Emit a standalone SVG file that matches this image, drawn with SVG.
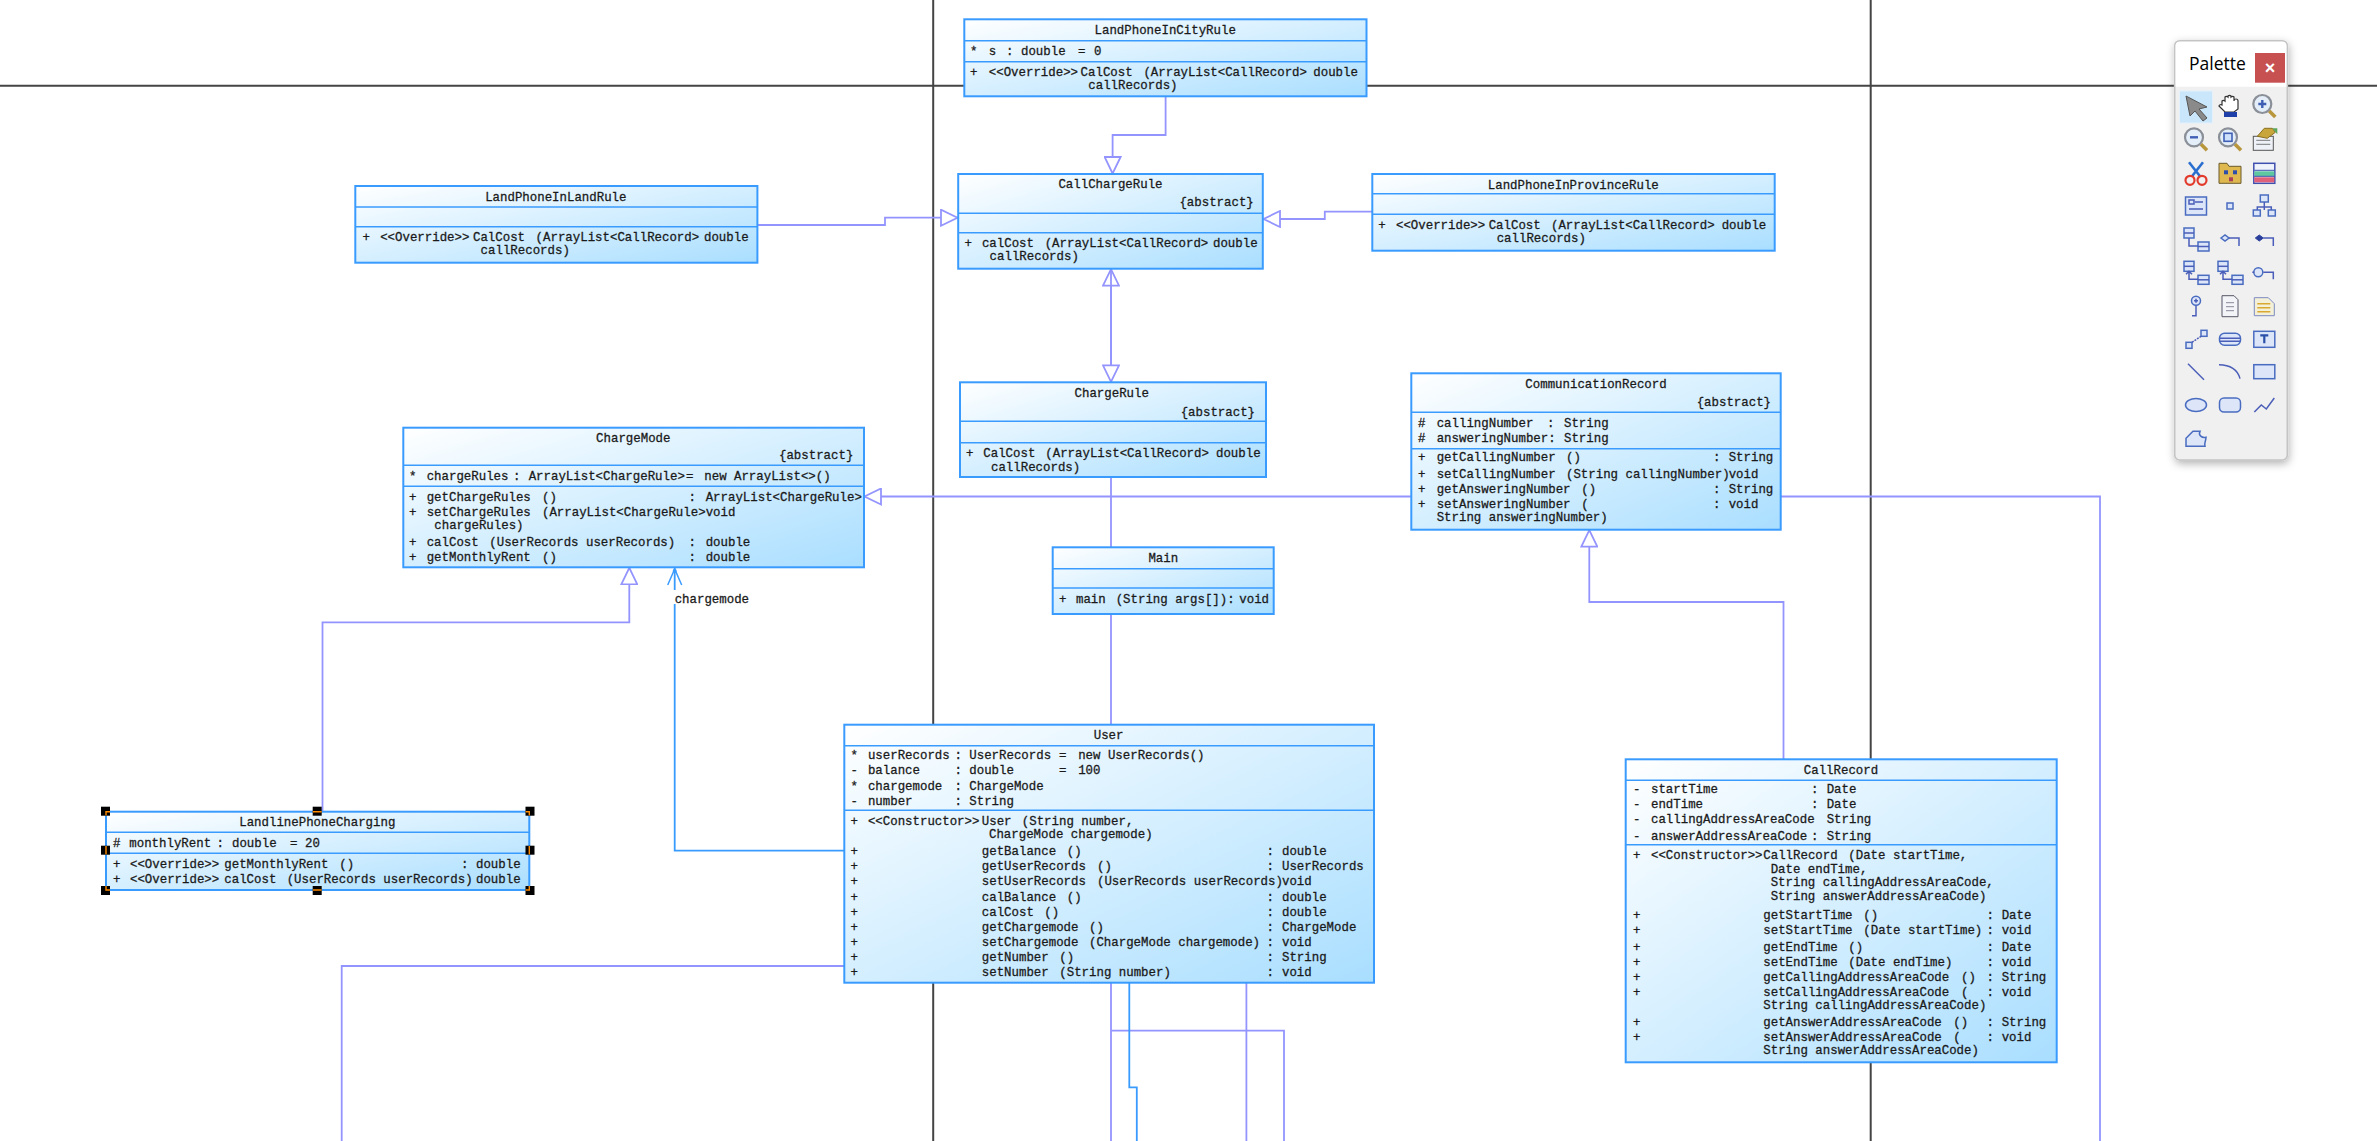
<svg xmlns="http://www.w3.org/2000/svg" width="2377" height="1141" viewBox="0 0 2377 1141">
<style>
text{font-family:"Liberation Mono","DejaVu Sans Mono",monospace;font-size:12.4px;fill:#1a1a1a;stroke:#1a1a1a;stroke-width:.28px}
.tt{text-anchor:middle}
.box{fill:url(#nodeFill);stroke:#3a9bff;stroke-width:2}
.div{stroke:#3a9bff;stroke-width:1.6;fill:none}
.bg{stroke:#444;stroke-width:2;fill:none}
.gen{stroke:#9494ff;stroke-width:1.8;fill:none}
.gh{marker-end:url(#tri)}
.asc{stroke:#3a9bff;stroke-width:1.8;fill:none}
.hd{fill:#000}
.or{stroke:#ff8c00;stroke-width:1.4;fill:none}
.ic{fill:none;stroke:#4a5db8;stroke-width:1.5}
.if{fill:#dce6f8;stroke:#4a6cc0;stroke-width:1.5}
.pt{font-family:"Open Sans","Noto Sans",sans-serif;font-size:17.5px;fill:#000;stroke:none}
.px{font-family:"Liberation Sans",sans-serif;font-size:18px;font-weight:bold;fill:#fff;stroke:none;text-anchor:middle}
</style>
<defs>
<linearGradient id="nodeFill" x1="0" y1="0" x2="1" y2="1"><stop offset="0" stop-color="#ffffff"/><stop offset="1" stop-color="#a9deff"/></linearGradient>
<marker id="tri" viewBox="0 0 18 18" refX="18" refY="9" markerWidth="18" markerHeight="18" markerUnits="userSpaceOnUse" orient="auto"><path d="M1,1 L17.5,9 L1,17 Z" fill="#fff" stroke="#9494ff" stroke-width="1.8"/></marker>
<marker id="open" viewBox="0 0 18 16" refX="18" refY="8" markerWidth="18" markerHeight="16" markerUnits="userSpaceOnUse" orient="auto"><path d="M1,1 L17,8 L1,15" fill="none" stroke="#3a9bff" stroke-width="1.5"/></marker>
<filter id="sh" x="-20%" y="-10%" width="140%" height="120%"><feDropShadow dx="1" dy="3" stdDeviation="4" flood-color="#000" flood-opacity=".3"/></filter>
<g id="mag"><circle cx="-2" cy="-2" r="9" fill="#e4eef8" stroke="#8a8f98" stroke-width="2.2"/><path d="M5,5 L11,11" stroke="#b8963c" stroke-width="3.6"/></g>
<g id="twoBoxes"><rect x="-12" y="-12" width="10" height="10" class="if"/><path d="M-12,-7 H-2" class="ic"/><rect x="2" y="2" width="11" height="9" class="if"/><path d="M2,6.500 H13" class="ic"/></g>
</defs>
<rect width="2377" height="1141" fill="#fff"/>
<g id="background-lines">
<line class="bg" x1="0" y1="85.7" x2="2377" y2="85.7"/>
<line class="bg" x1="933.2" y1="0" x2="933.2" y2="1141"/>
<line class="bg" x1="1870.7" y1="0" x2="1870.7" y2="1141"/>
</g>
<g id="connectors">
<path class="gen gh" d="M1165.6,96 V135 H1112.6 V174"/>
<path class="gen gh" d="M757,225 H885 V217.7 H958"/>
<path class="gen gh" d="M1372,211.7 H1324.8 V219 H1263"/>
<path class="gen gh" d="M1111,382 V268.7"/>
<path class="gen gh" d="M1111,268.7 V382.3"/>
<path class="gen" d="M1111,477 V725"/>
<path class="gen" d="M1111,982 V1141"/>
<path class="gen gh" d="M1411,496.5 H864"/>
<path class="gen" d="M1780,496.5 H2100 V1141"/>
<path class="gen gh" d="M1783.5,760 V602 H1589.3 V529.7"/>
<path class="gen gh" d="M322.5,811 V622.3 H629.3 V567.3"/>
<path class="gen" d="M844,966 H341.7 V1141"/>
<path class="gen" d="M1246.4,982 V1141"/>
<path class="gen" d="M1111.4,1030.7 H1284 V1141"/>
<path class="asc" d="M844,850.7 H674.7 V604"/>
<path class="asc" d="M674.7,590 V568" marker-end="url(#open)"/>
<path class="asc" d="M1129.3,982 V1087.3 H1136.8 V1141"/>
<circle cx="674.7" cy="571" r="2" fill="#3a9bff"/>
<text x="674.7" y="603">chargemode</text>
</g>
<g id="LandPhoneInCityRule">
<rect class="box" x="964.3" y="19.3" width="402.2" height="77"/>
<line class="div" x1="964.3" y1="40.7" x2="1366.5" y2="40.7"/><line class="div" x1="964.3" y1="61.7" x2="1366.5" y2="61.7"/>
<text class="tt" x="1165.2" y="34">LandPhoneInCityRule</text>
<text x="970" y="55">*</text><text x="988.8" y="55">s</text><text x="1006" y="55">:</text><text x="1021" y="55">double</text><text x="1078" y="55">=</text><text x="1094" y="55">0</text>
<text x="970" y="76">+</text><text x="988.8" y="76">&lt;&lt;Override&gt;&gt;</text><text x="1080.6" y="76">CalCost</text><text x="1143.4" y="76">(ArrayList&lt;CallRecord&gt;</text><text x="1313.3" y="76">double</text>
<text x="1088.3" y="89">callRecords)</text>
</g>
<g id="CallChargeRule">
<rect class="box" x="958.2" y="174" width="304.6" height="94.7"/>
<line class="div" x1="958.2" y1="213.3" x2="1262.8" y2="213.3"/><line class="div" x1="958.2" y1="232.7" x2="1262.8" y2="232.7"/>
<text class="tt" x="1110.5" y="188">CallChargeRule</text>
<text x="1179.4" y="206">{abstract}</text>
<text x="964.5" y="247">+</text><text x="981.9" y="247">calCost</text><text x="1044.7" y="247">(ArrayList&lt;CallRecord&gt;</text><text x="1213" y="247">double</text>
<text x="989.6" y="260">callRecords)</text>
</g>
<g id="LandPhoneInLandRule">
<rect class="box" x="355.3" y="186" width="402.1" height="76.7"/>
<line class="div" x1="355.3" y1="207" x2="757.4" y2="207"/><line class="div" x1="355.3" y1="226.7" x2="757.4" y2="226.7"/>
<text class="tt" x="555.8" y="200.5">LandPhoneInLandRule</text>
<text x="362.4" y="241">+</text><text x="380.2" y="241">&lt;&lt;Override&gt;&gt;</text><text x="473" y="241">CalCost</text><text x="535.6" y="241">(ArrayList&lt;CallRecord&gt;</text><text x="704" y="241">double</text>
<text x="480.6" y="254">callRecords)</text>
</g>
<g id="LandPhoneInProvinceRule">
<rect class="box" x="1372.3" y="174" width="402.4" height="76.7"/>
<line class="div" x1="1372.3" y1="193.7" x2="1774.7" y2="193.7"/><line class="div" x1="1372.3" y1="214.3" x2="1774.7" y2="214.3"/>
<text class="tt" x="1573.3" y="188.5">LandPhoneInProvinceRule</text>
<text x="1378.3" y="229">+</text><text x="1396" y="229">&lt;&lt;Override&gt;&gt;</text><text x="1488.7" y="229">CalCost</text><text x="1551" y="229">(ArrayList&lt;CallRecord&gt;</text><text x="1721.7" y="229">double</text>
<text x="1496.7" y="242">callRecords)</text>
</g>
<g id="ChargeRule">
<rect class="box" x="960" y="382.3" width="306" height="94.7"/>
<line class="div" x1="960" y1="421.3" x2="1266" y2="421.3"/><line class="div" x1="960" y1="442.7" x2="1266" y2="442.7"/>
<text class="tt" x="1111.7" y="397">ChargeRule</text>
<text x="1180.7" y="415.5">{abstract}</text>
<text x="966" y="457">+</text><text x="983.3" y="457">CalCost</text><text x="1045.3" y="457">(ArrayList&lt;CallRecord&gt;</text><text x="1216" y="457">double</text>
<text x="991" y="471">callRecords)</text>
</g>
<g id="Main">
<rect class="box" x="1052.7" y="547.3" width="221" height="66.7"/>
<line class="div" x1="1052.7" y1="568.7" x2="1273.7" y2="568.7"/><line class="div" x1="1052.7" y1="588" x2="1273.7" y2="588"/>
<text class="tt" x="1163.3" y="562">Main</text>
<text x="1059" y="602.5">+</text><text x="1076" y="602.5">main</text><text x="1115.7" y="602.5">(String args[]):</text><text x="1239.3" y="602.5">void</text>
</g>
<g id="CommunicationRecord">
<rect class="box" x="1411.3" y="373.3" width="369.4" height="156.4"/>
<line class="div" x1="1411.3" y1="412.3" x2="1780.7" y2="412.3"/><line class="div" x1="1411.3" y1="448.7" x2="1780.7" y2="448.7"/>
<text class="tt" x="1596" y="388">CommunicationRecord</text>
<text x="1696.7" y="406">{abstract}</text>
<text x="1418" y="427">#</text><text x="1436.7" y="427">callingNumber</text><text x="1547" y="427">:</text><text x="1564" y="427">String</text>
<text x="1418" y="442">#</text><text x="1436.7" y="442">answeringNumber:</text><text x="1564" y="442">String</text>
<text x="1418" y="461">+</text><text x="1436.7" y="461">getCallingNumber</text><text x="1566" y="461">()</text><text x="1713" y="461">:</text><text x="1728.7" y="461">String</text>
<text x="1418" y="478">+</text><text x="1436.7" y="478">setCallingNumber</text><text x="1566" y="478">(String callingNumber)</text><text x="1728.7" y="478">void</text>
<text x="1418" y="493">+</text><text x="1436.7" y="493">getAnsweringNumber</text><text x="1581.3" y="493">()</text><text x="1713" y="493">:</text><text x="1728.7" y="493">String</text>
<text x="1418" y="508">+</text><text x="1436.7" y="508">setAnsweringNumber</text><text x="1581.3" y="508">(</text><text x="1713" y="508">:</text><text x="1728.7" y="508">void</text>
<text x="1436.7" y="521">String answeringNumber)</text>
</g>
<g id="ChargeMode">
<rect class="box" x="403.3" y="427.7" width="460.7" height="139.6"/>
<line class="div" x1="403.3" y1="465.3" x2="864" y2="465.3"/><line class="div" x1="403.3" y1="486.3" x2="864" y2="486.3"/>
<text class="tt" x="633.3" y="442">ChargeMode</text>
<text x="779" y="459">{abstract}</text>
<text x="409" y="479.5">*</text><text x="426.7" y="479.5">chargeRules</text><text x="513" y="479.5">:</text><text x="528.7" y="479.5">ArrayList&lt;ChargeRule&gt;</text><text x="686" y="479.5">=</text><text x="704.3" y="479.5">new</text><text x="734" y="479.5">ArrayList&lt;&gt;()</text>
<text x="409" y="500.5">+</text><text x="426.7" y="500.5">getChargeRules</text><text x="542" y="500.5">()</text><text x="688.5" y="500.5">:</text><text x="705.7" y="500.5">ArrayList&lt;ChargeRule&gt;</text>
<text x="409" y="515.5">+</text><text x="426.7" y="515.5">setChargeRules</text><text x="542" y="515.5">(ArrayList&lt;ChargeRule&gt;</text><text x="705.7" y="515.5">void</text>
<text x="434.3" y="529">chargeRules)</text>
<text x="409" y="545.5">+</text><text x="426.7" y="545.5">calCost</text><text x="489.3" y="545.5">(UserRecords userRecords)</text><text x="688.5" y="545.5">:</text><text x="705.7" y="545.5">double</text>
<text x="409" y="560.5">+</text><text x="426.7" y="560.5">getMonthlyRent</text><text x="542" y="560.5">()</text><text x="688.5" y="560.5">:</text><text x="705.7" y="560.5">double</text>
</g>
<g id="LandlinePhoneCharging">
<rect class="box" x="106" y="811.7" width="423.3" height="78.3"/>
<line class="div" x1="106" y1="832.3" x2="529.3" y2="832.3"/><line class="div" x1="106" y1="853.3" x2="529.3" y2="853.3"/>
<text class="tt" x="317.3" y="826">LandlinePhoneCharging</text>
<text x="113" y="847">#</text><text x="129.3" y="847">monthlyRent</text><text x="216.5" y="847">:</text><text x="232" y="847">double</text><text x="290" y="847">=</text><text x="305" y="847">20</text>
<text x="113" y="868">+</text><text x="130" y="868">&lt;&lt;Override&gt;&gt;</text><text x="224.3" y="868">getMonthlyRent</text><text x="339.3" y="868">()</text><text x="461" y="868">:</text><text x="476" y="868">double</text>
<text x="113" y="883">+</text><text x="130" y="883">&lt;&lt;Override&gt;&gt;</text><text x="224.3" y="883">calCost</text><text x="286.7" y="883">(UserRecords userRecords)</text><text x="476" y="883">double</text>
<g id="selection-handles">
<rect class="hd" x="101" y="806.7" width="9" height="9"/><rect class="hd" x="312.7" y="806.7" width="9" height="9"/><rect class="hd" x="525.5" y="806.7" width="9" height="9"/>
<rect class="hd" x="101" y="845.7" width="9" height="9"/><rect class="hd" x="525.5" y="845.7" width="9" height="9"/>
<rect class="hd" x="101" y="886" width="9" height="9"/><rect class="hd" x="312.7" y="886" width="9" height="9"/><rect class="hd" x="525.5" y="886" width="9" height="9"/>
<path class="or" d="M110,811.7 H106 V815.5 M312.7,811.7 H321.7 M525.5,811.7 H529.3 V815.5 M106,846 V854.5 M529.3,846 V854.5 M106,886 V890 H110 M312.7,890 H321.7 M525.5,890 H529.3 V886"/>
</g>
</g>
<g id="User">
<rect class="box" x="844.3" y="724.7" width="529.7" height="258"/>
<line class="div" x1="844.3" y1="745.7" x2="1374" y2="745.7"/><line class="div" x1="844.3" y1="810.3" x2="1374" y2="810.3"/>
<text class="tt" x="1108.6" y="739">User</text>
<text x="850.4" y="758.5">*</text><text x="867.9" y="758.5">userRecords</text><text x="954.5" y="758.5">:</text><text x="969.3" y="758.5">UserRecords</text><text x="1059" y="758.5">=</text><text x="1078.2" y="758.5">new</text><text x="1107.9" y="758.5">UserRecords()</text>
<text x="850.4" y="773.5">-</text><text x="867.9" y="773.5">balance</text><text x="954.5" y="773.5">:</text><text x="969.3" y="773.5">double</text><text x="1059" y="773.5">=</text><text x="1078.2" y="773.5">100</text>
<text x="850.4" y="790">*</text><text x="867.9" y="790">chargemode</text><text x="954.5" y="790">:</text><text x="969.3" y="790">ChargeMode</text>
<text x="850.4" y="805">-</text><text x="867.9" y="805">number</text><text x="954.5" y="805">:</text><text x="969.3" y="805">String</text>
<text x="850.4" y="824.5">+</text><text x="867.9" y="824.5">&lt;&lt;Constructor&gt;&gt;</text><text x="981.8" y="824.5">User</text><text x="1021.8" y="824.5">(String number,</text>
<text x="989" y="838">ChargeMode chargemode)</text>
<text x="850.4" y="854.5">+</text><text x="981.8" y="854.5">getBalance</text><text x="1066.8" y="854.5">()</text><text x="1266.6" y="854.5">:</text><text x="1282" y="854.5">double</text>
<text x="850.4" y="869.5">+</text><text x="981.8" y="869.5">getUserRecords</text><text x="1097" y="869.5">()</text><text x="1266.6" y="869.5">:</text><text x="1282" y="869.5">UserRecords</text>
<text x="850.4" y="884.5">+</text><text x="981.8" y="884.5">setUserRecords</text><text x="1097" y="884.5">(UserRecords userRecords)</text><text x="1282" y="884.5">void</text>
<text x="850.4" y="901">+</text><text x="981.8" y="901">calBalance</text><text x="1066.8" y="901">()</text><text x="1266.6" y="901">:</text><text x="1282" y="901">double</text>
<text x="850.4" y="916">+</text><text x="981.8" y="916">calCost</text><text x="1044.3" y="916">()</text><text x="1266.6" y="916">:</text><text x="1282" y="916">double</text>
<text x="850.4" y="931">+</text><text x="981.8" y="931">getChargemode</text><text x="1089" y="931">()</text><text x="1266.6" y="931">:</text><text x="1282" y="931">ChargeMode</text>
<text x="850.4" y="946">+</text><text x="981.8" y="946">setChargemode</text><text x="1089" y="946">(ChargeMode chargemode)</text><text x="1266.6" y="946">:</text><text x="1282" y="946">void</text>
<text x="850.4" y="961">+</text><text x="981.8" y="961">getNumber</text><text x="1059.3" y="961">()</text><text x="1266.6" y="961">:</text><text x="1282" y="961">String</text>
<text x="850.4" y="976">+</text><text x="981.8" y="976">setNumber</text><text x="1059.3" y="976">(String number)</text><text x="1266.6" y="976">:</text><text x="1282" y="976">void</text>
</g>
<g id="CallRecord">
<rect class="box" x="1625.7" y="759.3" width="431" height="303"/>
<line class="div" x1="1625.7" y1="780.3" x2="2056.7" y2="780.3"/><line class="div" x1="1625.7" y1="844.7" x2="2056.7" y2="844.7"/>
<text class="tt" x="1841" y="773.5">CallRecord</text>
<text x="1633" y="793">-</text><text x="1651" y="793">startTime</text><text x="1811" y="793">:</text><text x="1826.7" y="793">Date</text>
<text x="1633" y="808">-</text><text x="1651" y="808">endTime</text><text x="1811" y="808">:</text><text x="1826.7" y="808">Date</text>
<text x="1633" y="823">-</text><text x="1651" y="823">callingAddressAreaCode</text><text x="1826.7" y="823">String</text>
<text x="1633" y="839.5">-</text><text x="1651" y="839.5">answerAddressAreaCode</text><text x="1811" y="839.5">:</text><text x="1826.7" y="839.5">String</text>
<text x="1633" y="859">+</text><text x="1651" y="859">&lt;&lt;Constructor&gt;&gt;</text><text x="1763.3" y="859">CallRecord</text><text x="1848.3" y="859">(Date startTime,</text>
<text x="1770.7" y="872.5">Date endTime,</text>
<text x="1770.7" y="886">String callingAddressAreaCode,</text>
<text x="1770.7" y="899.5">String answerAddressAreaCode)</text>
<text x="1633" y="919">+</text><text x="1763.3" y="919">getStartTime</text><text x="1863.3" y="919">()</text><text x="1986.5" y="919">:</text><text x="2001.7" y="919">Date</text>
<text x="1633" y="934">+</text><text x="1763.3" y="934">setStartTime</text><text x="1863.3" y="934">(Date startTime)</text><text x="1986.5" y="934">:</text><text x="2001.7" y="934">void</text>
<text x="1633" y="951">+</text><text x="1763.3" y="951">getEndTime</text><text x="1848.3" y="951">()</text><text x="1986.5" y="951">:</text><text x="2001.7" y="951">Date</text>
<text x="1633" y="965.5">+</text><text x="1763.3" y="965.5">setEndTime</text><text x="1848.3" y="965.5">(Date endTime)</text><text x="1986.5" y="965.5">:</text><text x="2001.7" y="965.5">void</text>
<text x="1633" y="980.5">+</text><text x="1763.3" y="980.5">getCallingAddressAreaCode</text><text x="1961" y="980.5">()</text><text x="1986.5" y="980.5">:</text><text x="2001.7" y="980.5">String</text>
<text x="1633" y="995.5">+</text><text x="1763.3" y="995.5">setCallingAddressAreaCode</text><text x="1961" y="995.5">(</text><text x="1986.5" y="995.5">:</text><text x="2001.7" y="995.5">void</text>
<text x="1763.3" y="1009">String callingAddressAreaCode)</text>
<text x="1633" y="1026">+</text><text x="1763.3" y="1026">getAnswerAddressAreaCode</text><text x="1953.3" y="1026">()</text><text x="1986.5" y="1026">:</text><text x="2001.7" y="1026">String</text>
<text x="1633" y="1041">+</text><text x="1763.3" y="1041">setAnswerAddressAreaCode</text><text x="1953.3" y="1041">(</text><text x="1986.5" y="1041">:</text><text x="2001.7" y="1041">void</text>
<text x="1763.3" y="1054">String answerAddressAreaCode)</text>
</g>
<g id="Palette">
<rect x="2174.7" y="40.7" width="112.6" height="419.3" rx="5" fill="#f0f0f0" stroke="#c4c4c4" stroke-width="1.6" filter="url(#sh)"/>
<path d="M2175.6,86.7 V45.7 a4,4 0 0 1 4,-4 H2282.4 a4,4 0 0 1 4,4 V86.7 Z" fill="#fff"/>
<rect x="2255" y="53" width="30" height="29.7" fill="#c75050"/>
<text class="px" x="2270" y="74">×</text>
<text class="pt" x="2189" y="69.5">Palette</text>
<rect x="2179.5" y="91" width="33" height="32" fill="#c9e6fb" stroke="#e4f1fb"/>
<path d="M2186,96 L2207,107 L2199,109 L2207,118 L2203,121 L2195,111 L2190,116 Z" fill="#8a8a8a" stroke="#555" stroke-width="1"/>
<g transform="translate(2230,106)"><path d="M-8,-1 V-5 a2,2 0 0 1 3,0 V-9 a2,2 0 0 1 3,0 V-10 a2,2 0 0 1 3,0 V-9 a2,2 0 0 1 3,0 V-5 a2,2 0 0 1 4,0 V3 L4,6 H-5 L-11,0 a2,2 0 0 1 3,-1 Z" fill="#fff" stroke="#333" stroke-width="1.2"/><rect x="-6" y="6" width="13" height="5" fill="#1e3fa8"/></g>
<g transform="translate(2264.3,106)"><use href="#mag"/><path d="M-6,-2 H2 M-2,-6 V2" stroke="#3f5fb5" stroke-width="2.4"/></g>
<g transform="translate(2196,139.3)"><use href="#mag"/><path d="M-6,-2 H2" stroke="#3f5fb5" stroke-width="2.4"/></g>
<g transform="translate(2230,139.3)"><use href="#mag"/><rect x="-6" y="-6" width="8" height="8" fill="#cfe0fb" stroke="#3f5fb5" stroke-width="1.6"/></g>
<g transform="translate(2264.3,139.3)"><rect x="-11" y="-3" width="20" height="14" fill="#eef2f8" stroke="#555"/><path d="M-8,1 H6 M-8,5 H6" stroke="#777"/><path d="M-7,-3 L0,-11 H8 L11,-7 L3,-1 Z" fill="#c9a63c" stroke="#8a6f20"/><path d="M8,-11 H13 V-5 Z" fill="#5aa65a"/></g>
<g transform="translate(2196,173.3)"><path d="M-7,-11 L4,3 M7,-11 L-4,3" stroke="#2a6fd0" stroke-width="2.6"/><circle cx="-6" cy="7" r="4.500" fill="none" stroke="#e23b2e" stroke-width="2.2"/><circle cx="6" cy="7" r="4.500" fill="none" stroke="#e23b2e" stroke-width="2.2"/></g>
<g transform="translate(2230,173.3)"><path d="M-11,-10 H-3 L-1,-7 H11 V10 H-11 Z" fill="#e0b850" stroke="#6a5a2a"/><rect x="-6" y="-3" width="4" height="4" fill="#2f4fa8"/><rect x="3" y="-3" width="4" height="4" fill="#2f4fa8"/><rect x="-1" y="4" width="4" height="4" fill="#a83f5a"/></g>
<g transform="translate(2264.3,173.3)"><rect x="-10.500" y="-10" width="21" height="20" fill="#eef2fa" stroke="#3f4fb0" stroke-width="1.5"/><rect x="-10" y="-2" width="20" height="5" fill="#60c8a0"/><rect x="-10" y="4" width="20" height="5" fill="#e0607a"/><path d="M-10,-3 H10 M-10,3 H10" stroke="#3f4fb0"/></g>
<g transform="translate(2196,206)"><rect x="-10.500" y="-9" width="21" height="18" class="if"/><rect x="-7" y="-6" width="5" height="4" class="ic"/><path d="M-1,-4 H7 M-7,3 H7" class="ic"/></g>
<g transform="translate(2230,206)"><rect x="-3" y="-3" width="6" height="6" class="if"/></g>
<g transform="translate(2264.3,206)"><rect x="-4" y="-11" width="8" height="7" class="if"/><rect x="-11" y="4" width="7" height="6" class="if"/><rect x="4" y="4" width="7" height="6" class="if"/><path d="M0,-4 V4 M-7,4 V1 H7 V4" class="ic"/></g>
<g transform="translate(2196,240)"><use href="#twoBoxes"/><path d="M-7,-2 V6 H2" class="ic"/></g>
<g transform="translate(2230,240)"><path d="M-9,-2 L-5,-5 L-1,-2 L-5,1 Z" class="if"/><path d="M-1,-2 H9 V6" class="ic"/></g>
<g transform="translate(2264.3,240)"><path d="M-9,-2 L-5,-5 L-1,-2 L-5,1 Z" fill="#2a3f9c" stroke="#2a3f9c"/><path d="M-1,-2 H9 V6" class="ic"/></g>
<g transform="translate(2196,273.3)"><use href="#twoBoxes"/><path d="M-7,-2 V6 H2 M-10,1 L-7,-2 L-4,1" class="ic"/></g>
<g transform="translate(2230,273.3)"><use href="#twoBoxes"/><path d="M-7,-2 V6 H2 M-10,1 L-7,-2 L-4,1" class="ic"/></g>
<g transform="translate(2264.3,273.3)"><circle cx="-6" cy="-1" r="4.500" class="if"/><path d="M-1,-1 H9 V6 M-12,-1 H-10" class="ic"/></g>
<g transform="translate(2196,306.7)"><circle cx="0" cy="-6" r="4.500" class="if"/><path d="M-2,-6 H2 M0,-8 V-4" class="ic"/><path d="M0,-1 V9 H-4" class="ic"/></g>
<g transform="translate(2230,306.7)"><path d="M-8,-11 H4 L8,-7 V10 H-8 Z" fill="#f2f4f8" stroke="#556"/><path d="M-4,-4 H4 M-4,0 H4 M-4,4 H4" stroke="#889"/></g>
<g transform="translate(2264.3,306.7)"><path d="M-10,-9 H4 L10,-3 V9 H-10 Z" fill="#f4f0d8" stroke="#7a8ac0"/><path d="M-7,-3 H6 M-7,1 H6 M-7,5 H6" stroke="#d8a830" stroke-width="1.6"/></g>
<g transform="translate(2196,339.3)"><rect x="-10" y="3" width="6" height="6" class="if"/><rect x="5" y="-9" width="6" height="6" class="if"/><path d="M-4,3 L5,-3" class="ic" stroke-dasharray="2 1"/></g>
<g transform="translate(2230,339.3)"><rect x="-10.500" y="-6" width="21" height="12" rx="5" class="if"/><path d="M-10,-1 H10 M-10,2 H10" class="ic"/></g>
<g transform="translate(2264.3,339.3)"><rect x="-10.500" y="-8" width="21" height="16" class="if"/><path d="M-4,-4 H4 M0,-4 V4" stroke="#2a4fa8" stroke-width="2.2"/></g>
<g transform="translate(2196,371.7)"><path d="M-8,-8 L8,8" class="ic"/></g>
<g transform="translate(2230,371.7)"><path d="M-11,-7 C0,-7 8,-2 10,7" class="ic"/></g>
<g transform="translate(2264.3,371.7)"><rect x="-10.500" y="-7" width="21" height="14" class="if"/></g>
<g transform="translate(2196,405)"><ellipse rx="10.500" ry="6.500" class="if"/></g>
<g transform="translate(2230,405)"><rect x="-10.500" y="-7" width="21" height="14" rx="4.500" class="if"/></g>
<g transform="translate(2264.3,405)"><path d="M-10,7 L-3,0 L2,4 L10,-7" class="ic"/></g>
<g transform="translate(2196,438.3)"><path d="M-10,8 V0 L-3,-7 H4 C2,-3 6,0 10,-1 C10,3 8,4 9,8 Z" class="if"/></g>
</g>
</svg>
